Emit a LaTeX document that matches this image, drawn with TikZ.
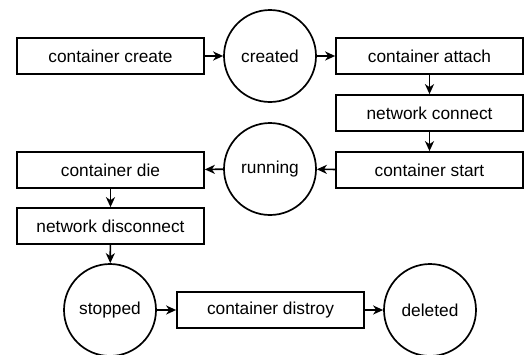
\documentclass[tikz,border=0pt]{standalone}
\usepackage{fontspec}
\setmainfont{Liberation Sans}
\usetikzlibrary{%
	arrows.meta,%
	positioning
}

\begin{document}
\begin{tikzpicture}[x=1pt,y=-1pt,
		stepbox/.style={draw,line width=1.7pt,minimum width=187pt,minimum height=36pt,inner sep=0pt,font=\fontsize{17.3}{20}\selectfont},
		stcircle/.style={draw,circle,line width=1.7pt,minimum size=92pt,inner sep=0pt,font=\fontsize{17.3}{20}\selectfont},
		link/.style={line width=1.7pt,-{Stealth[length=10pt,width=9pt,inset=3pt]}}
	]
		\useasboundingbox (0,0) rectangle (525,354);
		
		% States
		\node[stcircle] (created) at (270,56) {created};
		\node[stcircle] (running) at (270,169) {running};
		\node[stcircle] (stopped) at (110,310) {stopped};
		\node[stcircle] (deleted) at (430,310) {deleted};
		
		% Events
		\node[stepbox] (create) at (110.5,56) {container create};
		\node[stepbox] (attach) at (429.5,56) {container attach};
		\node[stepbox] (connect) at (429.5,113) {network connect};
		\node[stepbox] (start) at (429.5,170) {container start};
		\node[stepbox] (die) at (110.5,170) {container die};
		\node[stepbox] (disconnect) at (110.5,226) {network disconnect};
		\node[stepbox] (distroy) at (270.5,310) {container distroy};
		
		% Transitions
		\foreach \a/\b in {create/created, created/attach, attach/connect, connect/start,
			start/running, running/die, die/disconnect, disconnect/stopped,
			stopped/distroy, distroy/deleted}
			\draw[link] (\a) -- (\b);
	\end{tikzpicture}
\end{document}
